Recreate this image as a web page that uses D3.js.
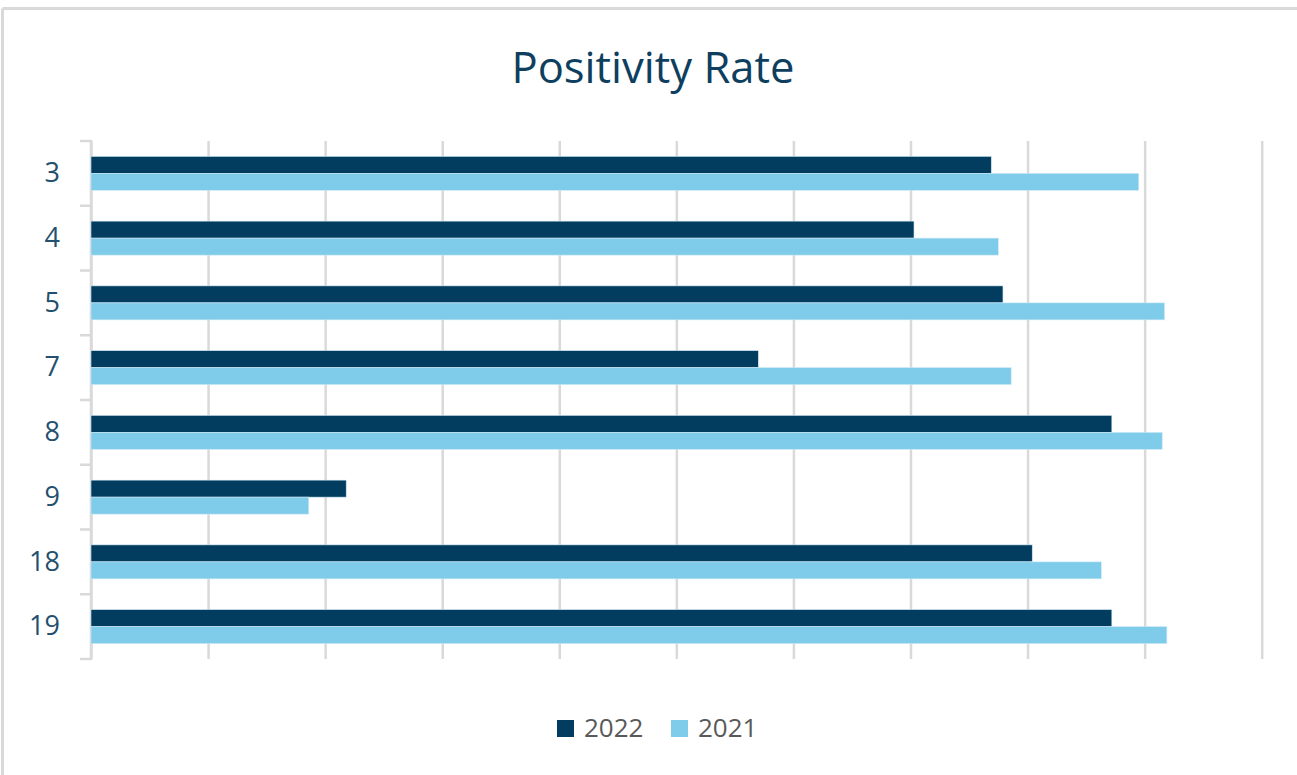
<!DOCTYPE html>
<html><head><meta charset="utf-8">
<script src="https://cdn.jsdelivr.net/npm/d3@7"></script>
<style>body{margin:0;background:#fff;} svg{display:block;}</style>
</head><body>
<svg id="c" width="1297" height="775"></svg>
<script>
const categories = ["3","4","5","7","8","9","18","19"];
const series2022 = [7.69, 7.03, 7.79, 5.70, 8.72, 2.18, 8.04, 8.72];
const series2021 = [8.95, 7.75, 9.17, 7.86, 9.15, 1.86, 8.63, 9.19];
const seriesNames = ["2022","2021"];
const xTicks = [0,1,2,3,4,5,6,7,8,9,10];

const colors = {"2022":"#023d5f","2021":"#7ecbea"};
const svg = d3.select("#c");
const W=1297,H=775;
const m={l:91,r:35.3,t:141,b:116};

// frame (cropped)
svg.append("line").attr("x1",2.5).attr("x2",W).attr("y1",8.5).attr("y2",8.5).attr("stroke","#d9d9d9").attr("stroke-width",3);
svg.append("line").attr("x1",2.5).attr("x2",2.5).attr("y1",8.5).attr("y2",H).attr("stroke","#d9d9d9").attr("stroke-width",3);

svg.append("text").attr("x",653).attr("y",83).attr("text-anchor","middle")
  .attr("font-family","Open Sans").attr("font-size",43).attr("fill","#0f3f5f")
  .attr("textLength",283).attr("lengthAdjust","spacingAndGlyphs").text("Positivity Rate");

const x=d3.scaleLinear().domain([0,10]).range([m.l,W-m.r]);
const y=d3.scaleBand().domain(categories).range([m.t,H-m.b]).paddingInner(0.475).paddingOuter(0.2375);
const y1=d3.scaleBand().domain(seriesNames).range([0,y.bandwidth()]);

// gridlines
svg.append("g").attr("transform",`translate(0,${H-m.b})`)
  .call(d3.axisBottom(x).tickValues(xTicks).tickSize(-(H-m.b-m.t)).tickFormat(""))
  .call(g=>g.select(".domain").remove())
  .call(g=>g.selectAll(".tick line").attr("stroke","#d9d9d9").attr("stroke-width",2.5));

// y axis
const ya=svg.append("g").attr("transform",`translate(${m.l},0)`)
  .call(d3.axisLeft(y).tickSize(0).tickPadding(31));
ya.select(".domain").remove();
ya.selectAll(".tick text").attr("font-family","Open Sans").attr("font-size",27).attr("fill","#24506f");
const bounds=d3.range(categories.length+1).map(i=>m.t+i*((H-m.b-m.t)/categories.length));
svg.append("g").selectAll("line").data(bounds).join("line")
  .attr("x1",80).attr("x2",m.l).attr("y1",d=>d).attr("y2",d=>d).attr("stroke","#d9d9d9").attr("stroke-width",2.5);
svg.append("line").attr("x1",m.l).attr("x2",m.l).attr("y1",m.t-1).attr("y2",H-m.b+1).attr("stroke","#d9d9d9").attr("stroke-width",2.5);

const rows=categories.map((c,i)=>({c,vals:[{k:"2022",v:series2022[i]},{k:"2021",v:series2021[i]}]}));
svg.append("g").selectAll("g").data(rows).join("g")
  .attr("transform",d=>`translate(0,${y(d.c)})`)
  .selectAll("rect").data(d=>d.vals).join("rect")
  .attr("x",x(0)).attr("y",d=>y1(d.k)).attr("height",y1.bandwidth())
  .attr("width",d=>x(d.v)-x(0)).attr("fill",d=>colors[d.k])
  .attr("stroke","#cfe9f6").attr("stroke-width",0.6);

// legend
const lg=svg.append("g");
const items=[{k:"2022",x:557},{k:"2021",x:671}];
items.forEach(it=>{
  lg.append("rect").attr("x",it.x).attr("y",720).attr("width",17).attr("height",17).attr("fill",colors[it.k]);
  lg.append("text").attr("x",it.x+27).attr("y",737).attr("font-family","Open Sans").attr("font-size",26).attr("fill","#595959").text(it.k);
});
</script>
</body></html>
